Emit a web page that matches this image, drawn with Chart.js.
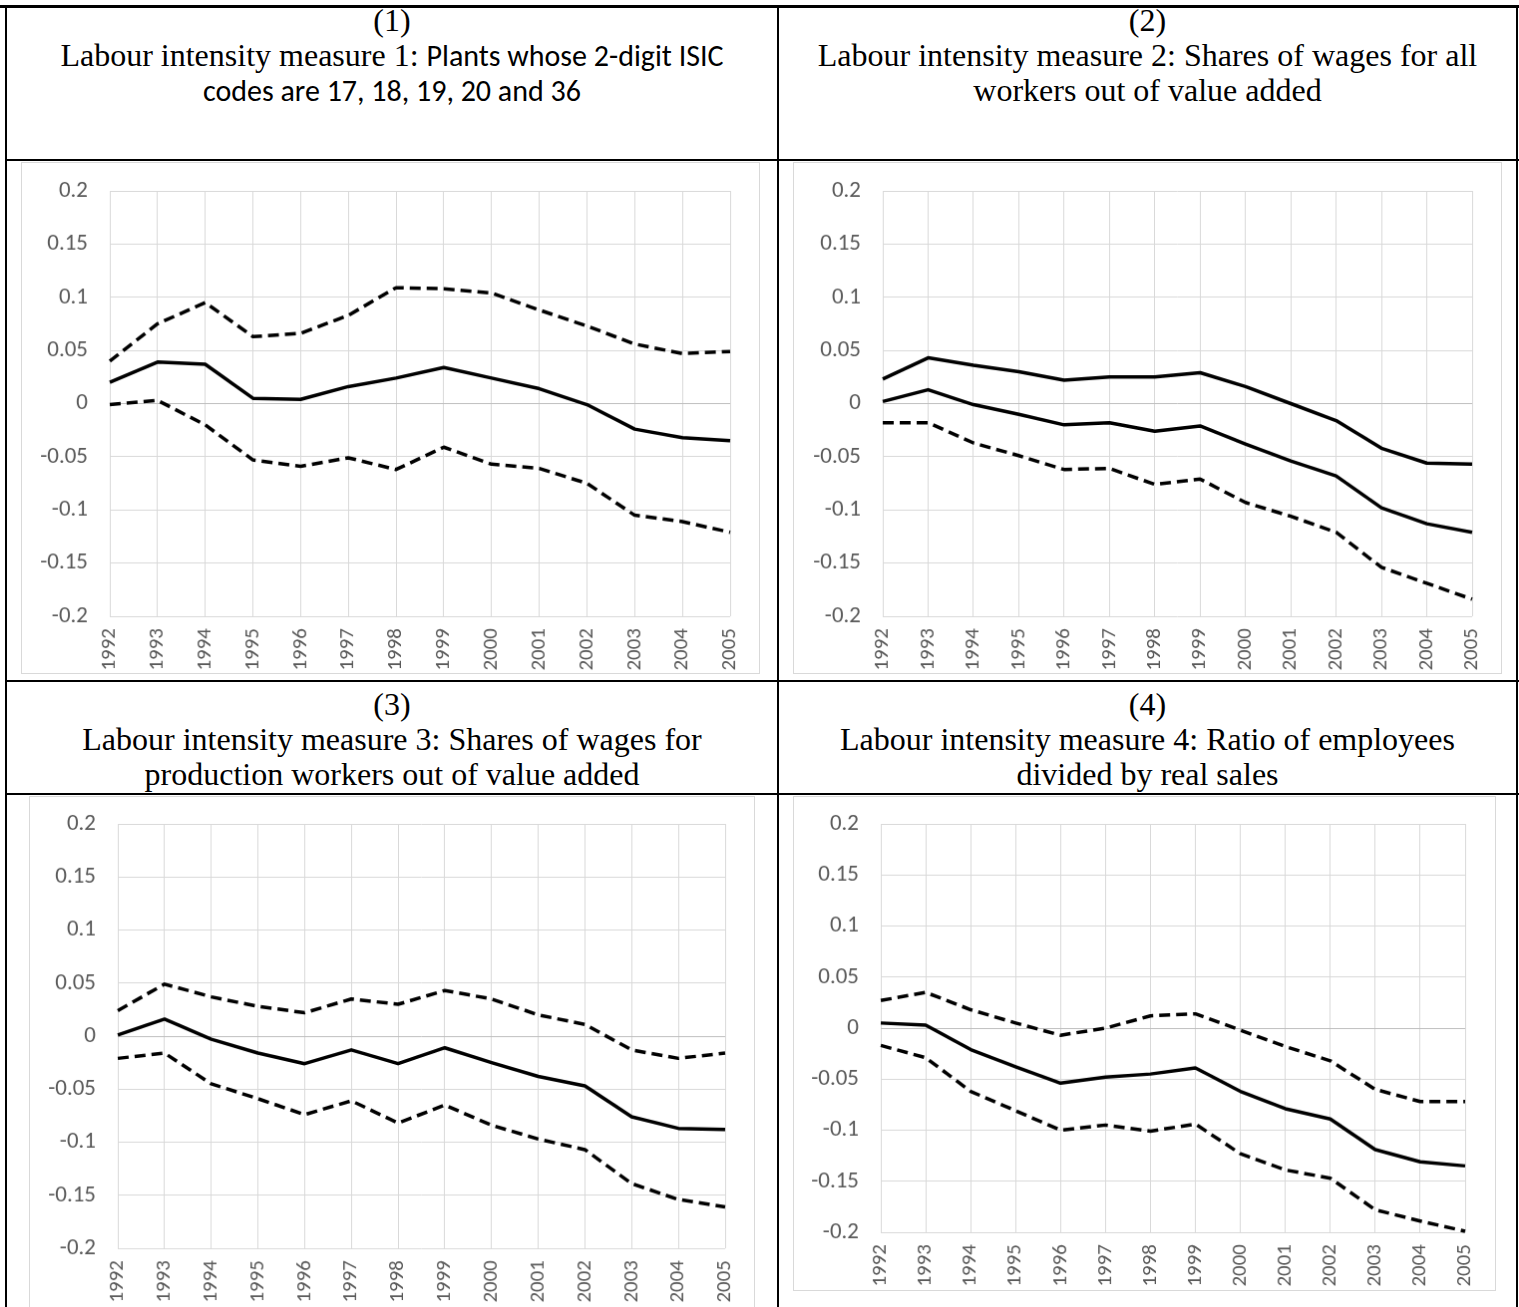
<!DOCTYPE html>
<html>
<head>
<meta charset="utf-8">
<script src="https://cdn.jsdelivr.net/npm/chart.js@4.4.1/dist/chart.umd.min.js"></script>
<style>
  body {
    margin: 0;
    width: 1519px;
    height: 1307px;
    overflow: hidden;
    background: #fff;
    position: relative;
    font-family: "Liberation Serif", "Times New Roman", serif;
  }
  .rule { position: absolute; background: #000; }
  .head {
    position: absolute;
    text-align: center;
    font-size: 32px;
    line-height: 35px;
    color: #000;
    white-space: nowrap;
  }
  .cal { font-family: Carlito, Lato, sans-serif; font-size: 30px; line-height: 30px; }
  canvas { position: absolute; border: 1px solid #d9d9d9; }
</style>
</head>
<body>

<!-- table rules -->
<div class="rule" style="left:0;top:5px;width:1519px;height:3px"></div>
<div class="rule" style="left:5px;top:5px;width:2px;height:1302px"></div>
<div class="rule" style="left:777px;top:5px;width:2px;height:1302px"></div>
<div class="rule" style="left:1516px;top:5px;width:2px;height:1302px"></div>
<div class="rule" style="left:5px;top:159px;width:1514px;height:2px"></div>
<div class="rule" style="left:5px;top:680px;width:1514px;height:2px"></div>
<div class="rule" style="left:5px;top:793px;width:1514px;height:2px"></div>

<div class="head" style="left:7px;width:770px;top:3px">(1)<br>Labour intensity measure 1: <span class="cal">Plants whose 2-digit ISIC</span><br><span class="cal">codes are 17, 18, 19, 20 and 36</span></div>
<div class="head" style="left:779px;width:737px;top:3px">(2)<br>Labour intensity measure 2: Shares of wages for all<br>workers out of value added</div>
<div class="head" style="left:7px;width:770px;top:687px">(3)<br>Labour intensity measure 3: Shares of wages for<br>production workers out of value added</div>
<div class="head" style="left:779px;width:737px;top:687px">(4)<br>Labour intensity measure 4: Ratio of employees<br>divided by real sales</div>

<canvas id="c1"></canvas>
<canvas id="c2"></canvas>
<canvas id="c3"></canvas>
<canvas id="c4"></canvas>

<script>
const years = ["1992", "1993", "1994", "1995", "1996", "1997", "1998",
  "1999", "2000", "2001", "2002", "2003", "2004", "2005"];
const yTickValues = [-0.2, -0.15, -0.1, -0.05, 0, 0.05, 0.1, 0.15, 0.2];

// measure 1: ISIC 17, 18, 19, 20 and 36
const m1Upper = [0.040, 0.075, 0.095, 0.063, 0.066, 0.083, 0.109, 0.108, 0.104, 0.088, 0.073, 0.056, 0.047, 0.049];
const m1Est = [0.020, 0.039, 0.037, 0.005, 0.004, 0.016, 0.024, 0.034, 0.024, 0.014, -0.001, -0.024, -0.032, -0.035];
const m1Lower = [-0.001, 0.003, -0.020, -0.053, -0.059, -0.051, -0.062, -0.041, -0.057, -0.061, -0.075, -0.105, -0.111, -0.121];

// measure 2: wage share, all workers
const m2Upper = [0.023, 0.043, 0.036, 0.030, 0.022, 0.025, 0.025, 0.029, 0.016, 0.000, -0.016, -0.042, -0.056, -0.057];
const m2Est = [0.002, 0.013, -0.001, -0.010, -0.020, -0.018, -0.026, -0.021, -0.038, -0.054, -0.068, -0.098, -0.113, -0.121];
const m2Lower = [-0.018, -0.018, -0.037, -0.049, -0.062, -0.061, -0.076, -0.071, -0.093, -0.106, -0.121, -0.154, -0.169, -0.184];

// measure 3: wage share, production workers
const m3Upper = [0.024, 0.049, 0.037, 0.028, 0.022, 0.035, 0.030, 0.043, 0.035, 0.020, 0.011, -0.013, -0.021, -0.016];
const m3Est = [0.001, 0.016, -0.003, -0.016, -0.026, -0.013, -0.026, -0.011, -0.025, -0.038, -0.047, -0.076, -0.087, -0.088];
const m3Lower = [-0.021, -0.016, -0.045, -0.059, -0.074, -0.061, -0.082, -0.065, -0.084, -0.097, -0.107, -0.139, -0.154, -0.161];

// measure 4: employees / real sales
const m4Upper = [0.027, 0.035, 0.018, 0.005, -0.007, 0.000, 0.012, 0.014, -0.002, -0.018, -0.032, -0.060, -0.072, -0.072];
const m4Est = [0.005, 0.003, -0.021, -0.038, -0.054, -0.048, -0.045, -0.039, -0.062, -0.079, -0.089, -0.119, -0.131, -0.135];
const m4Lower = [-0.017, -0.029, -0.062, -0.081, -0.100, -0.095, -0.101, -0.094, -0.123, -0.139, -0.147, -0.178, -0.189, -0.199];

const SOLID = [];
const DASH = [11, 6];

// frame = outer chart box, plot = grid area (page pixels)
const panels = [
  { id: "c1", frame: { x: 21, y: 162, w: 741, h: 514 }, plot: { l: 110, t: 191, r: 732, b: 618 },
    series: [[m1Upper, DASH], [m1Est, SOLID], [m1Lower, DASH]] },
  { id: "c2", frame: { x: 793, y: 162, w: 711, h: 514 }, plot: { l: 883, t: 191, r: 1474, b: 618 },
    series: [[m2Upper, SOLID], [m2Est, SOLID], [m2Lower, DASH]] },
  { id: "c3", frame: { x: 29, y: 796, w: 728, h: 520 }, plot: { l: 118, t: 824, r: 727, b: 1250 },
    series: [[m3Upper, DASH], [m3Est, SOLID], [m3Lower, DASH]] },
  { id: "c4", frame: { x: 793, y: 796, w: 705, h: 497 }, plot: { l: 881, t: 824, r: 1467, b: 1234 },
    series: [[m4Upper, DASH], [m4Est, SOLID], [m4Lower, DASH]] },
];

function makeChart(p) {
  const canvas = document.getElementById(p.id);
  const cw = p.frame.w - 2;
  const ch = p.frame.h - 2;
  canvas.width = cw;
  canvas.height = ch;
  canvas.style.left = p.frame.x + "px";
  canvas.style.top = p.frame.y + "px";

  const yWidth = p.plot.l - p.frame.x - 1;
  const padTop = p.plot.t - p.frame.y - 1;
  const padRight = p.frame.x + p.frame.w - 1 - p.plot.r;
  const xHeight = ch - (p.plot.b - p.frame.y - 1);

  const data = {
    labels: years,
    datasets: p.series.map(([values, dash]) => ({
      data: values,
      borderColor: "#000",
      borderWidth: 3.5,
      borderDash: dash,
      borderCapStyle: "butt",
      borderJoinStyle: "round",
      pointRadius: 0,
      tension: 0,
      fill: false,
      clip: false,
    })),
  };

  const options = {
    responsive: false,
    animation: false,
    devicePixelRatio: 1,
    layout: {
      padding: { top: padTop, right: padRight, left: 0, bottom: 0 },
    },
    plugins: {
      legend: { display: false },
      tooltip: { enabled: false },
    },
    scales: {
      x: {
        offset: false,
        border: { display: false },
        grid: { color: "#d9d9d9", lineWidth: 1, drawTicks: false },
        ticks: {
          autoSkip: false,
          minRotation: 90,
          maxRotation: 90,
          padding: 12,
          color: "#595959",
          font: { family: "Carlito, Lato, sans-serif", size: 21 },
        },
        afterFit: (scale) => {
          scale.height = xHeight;
          scale.paddingLeft = 0;
          scale.paddingRight = 0;
        },
      },
      y: {
        min: -0.2,
        max: 0.2,
        border: { display: false },
        grid: {
          color: (ctx) => (ctx.tick && ctx.tick.value === 0 ? "#bfbfbf" : "#d9d9d9"),
          lineWidth: 1,
          drawTicks: false,
        },
        afterBuildTicks: (scale) => {
          scale.ticks = yTickValues.map((v) => ({ value: v }));
        },
        ticks: {
          padding: 22,
          color: "#595959",
          font: { family: "Carlito, Lato, sans-serif", size: 23 },
          callback: (v) => String(Number(v.toFixed(2))),
        },
        afterFit: (scale) => {
          scale.width = yWidth;
          scale.paddingTop = 0;
          scale.paddingBottom = 0;
        },
      },
    },
  };

  new Chart(canvas, { type: "line", data, options });
}

panels.forEach(makeChart);
</script>
</body>
</html>
